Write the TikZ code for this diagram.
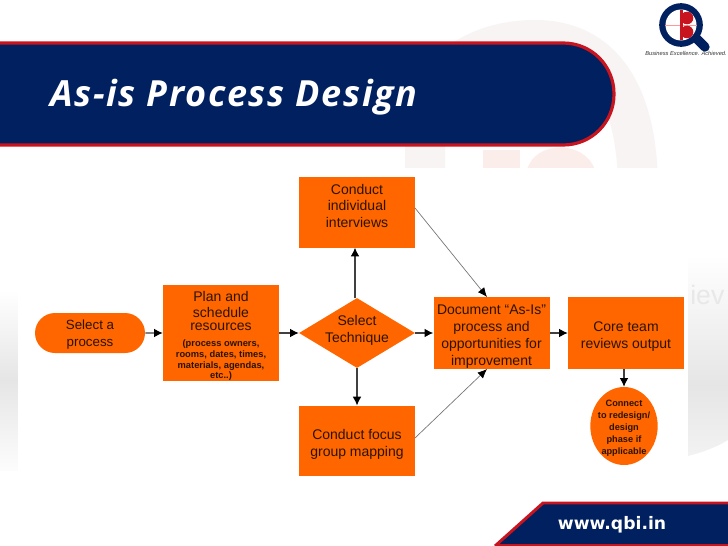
\documentclass[tikz,border=0pt]{standalone}
\usepackage{fontspec}
\setmainfont{Liberation Sans}
\newfontfamily\titlefont{Open Sans}
\newfontfamily\webfont{DejaVu Sans}
\usetikzlibrary{shapes.geometric,shapes.misc,arrows.meta}
\definecolor{navy}{HTML}{002060}
\definecolor{brandred}{HTML}{C8141E}
\definecolor{boxorange}{HTML}{FF6600}
\definecolor{inktext}{HTML}{2A1400}
\definecolor{palearch}{HTML}{F8F4F4}
\definecolor{palepink}{HTML}{FBEDEA}
\newcommand{\planfine}{\bfseries\fontsize{7}{7.8}\selectfont}
\newcommand{\pushdown}[1]{\rule{0pt}{#1}}
\newcommand{\pushup}[1]{\rule[-#1]{0pt}{#1}}
\tikzset{
  stepbox/.style={draw=none,fill=boxorange,rectangle,minimum width=87pt,minimum height=53pt,inner sep=0pt,align=center,text=inktext,font=\fontsize{10.5}{12.6}\selectfont},
  flow/.style={draw=black!75,line width=.8pt,-{Latex[length=6.5pt,width=6.5pt,black]},shorten >=0pt},
  thinflow/.style={draw=black!55,line width=.5pt,-{Latex[length=7pt,width=6pt,black]}},
  finetext/.style={font=\bfseries\fontsize{6.9}{9}\selectfont}
}
\begin{document}
\begin{tikzpicture}[x=.75pt,y=-.75pt]
\useasboundingbox (0,0) rectangle (728,546);
\fill[white] (0,0) rectangle (728,546);
% watermark behind the banner
\begin{scope}
\clip (390,0) rectangle (690,168);
\draw[line width=30pt,color=palearch] (425,190) -- (425,130) .. controls (430,60) and (490,40) .. (535,40) .. controls (600,40) and (638,90) .. (638,190);
\fill[palepink] (483,150) rectangle (520,170);
\fill[palepink] (527,170) .. controls (535,140) and (585,140) .. (595,170) -- cycle;
\end{scope}
% grey panels behind the white sheet
\shade[top color=white,bottom color=black!10] (688,255) rectangle (728,385);
\shade[top color=black!10,bottom color=black!5] (688,385) -- (728,385) -- (728,440) .. controls (715,448) and (700,453) .. (688,456) -- cycle;
\shade[top color=white,bottom color=black!10] (0,290) rectangle (18,380);
\shade[top color=black!10,bottom color=black!1] (0,380) rectangle (18,470);
\node[anchor=west,inner sep=0pt,text=black!9,font=\fontsize{20}{20}\selectfont] (wm) at (690,295) {iev};
\fill[white] (18,168) rectangle (688,486);
% banner
\draw[navy,fill=navy,line width=0pt] (-4,43) -- (563,43) .. controls (592,43) and (614,66) .. (614,94) .. controls (614,122) and (592,145) .. (563,145) -- (-4,145) -- cycle;
\draw[brandred,line width=2.4pt] (-4,43) -- (563,43) .. controls (592,43) and (614,66) .. (614,94) .. controls (614,122) and (592,145) .. (563,145) -- (-4,145);
\node[anchor=base west,inner sep=0pt,text=white,font=\titlefont\itshape\bfseries\fontsize{27}{27}\selectfont] (title) at (50,106) {\addfontfeature{LetterSpace=4.6}As-is Process Design};
% logo
\draw[navy,line width=7pt,line cap=round] (696,38) -- (705,47);
\draw[navy,line width=5pt] (681,25) circle (18.5);
\fill[white] (681,25) circle (15.5);
\draw[red!40,line width=.4pt] (665,25) -- (697,25);
\fill[brandred] (680,10) rectangle (683,40);
\fill[brandred] (687,18) circle (6.3);
\fill[brandred] (687,32) circle (6.3);
\node[inner sep=0pt,text=black!80,font=\itshape\fontsize{4.3}{4.5}\selectfont] (tagline) at (686,53) {Business Excellence. Achieved.};
% footer
\fill[navy] (543,503) -- (728,503) -- (728,546) -- (497,546) -- cycle;
\draw[brandred,line width=2.2pt] (495,546) -- (543,503) -- (728,503);
\draw[brandred,line width=1.4pt] (495,545.4) -- (728,545.4);
\node[text=white,inner sep=0pt,font=\webfont\bfseries\fontsize{12.9}{13}\selectfont] (web) at (612,525) {www.qbi.in};
% flow
\node[rounded rectangle,fill=boxorange,minimum width=82.5pt,minimum height=30pt,inner sep=0pt,align=center,text=inktext,font=\fontsize{10}{12.8}\selectfont] (sel) at (90,333) {\pushdown{9.5pt}Select a\\process};
\node[stepbox,minimum height=70.5pt] (plan) at (221,333) {\pushdown{12pt}Plan and\\schedule\\[-2.85pt]resources\\[-.6pt]\planfine (process owners,\\[-4.6pt]\planfine rooms, dates, times,\\[-4.6pt]\planfine materials, agendas,\\[-4.6pt]\planfine etc..)};
\node[diamond,fill=boxorange,aspect=1.66,minimum width=87pt,minimum height=52.5pt,inner sep=0pt] (tech) at (357,333) {};
\node[inner sep=0pt,align=center,text=inktext,font=\fontsize{10.5}{12.6}\selectfont] (techlabel) at (357,330) {Select\\Technique};
\node[stepbox] (indiv) at (357,212.5) {Conduct\\individual\\interviews\pushup{10pt}};
\node[stepbox] (focus) at (357,441) {\pushdown{12.5pt}Conduct focus\\group mapping};
\node[stepbox,minimum height=54pt] (doc) at (491.5,333) {\pushdown{12.5pt}Document “As-Is”\\process and\\opportunities for\\improvement};
\node[stepbox,minimum height=54pt] (core) at (626,333) {\pushdown{12.5pt}Core team\\reviews output};
\node[ellipse,fill=boxorange,minimum width=50.5pt,minimum height=58.5pt,inner sep=0pt] (conn) at (624,426) {};
\node[inner sep=0pt,align=center,text=inktext,finetext] (connlabel) at (624,428) {Connect\\to redesign/\\design\\phase if\\applicable};
\coordinate (docN) at (487,297);
\coordinate (docS) at (487,369);
\coordinate (indivE) at (415,208);
\coordinate (focusE) at (415,438);
\draw[flow] (sel) -- (plan);
\draw[flow] (plan) -- (tech);
\draw[flow] (tech) -- (doc);
\draw[flow] (doc) -- (core);
\draw[flow] (tech.north) ++(-2,0) -- ++(0,-50);
\draw[flow] (tech) -- (focus);
\draw[flow] (core.south -| conn.north) -- (conn.north);
\draw[thinflow] (indivE) -- (docN);
\draw[thinflow] (focusE) -- (docS);
\end{tikzpicture}
\end{document}
